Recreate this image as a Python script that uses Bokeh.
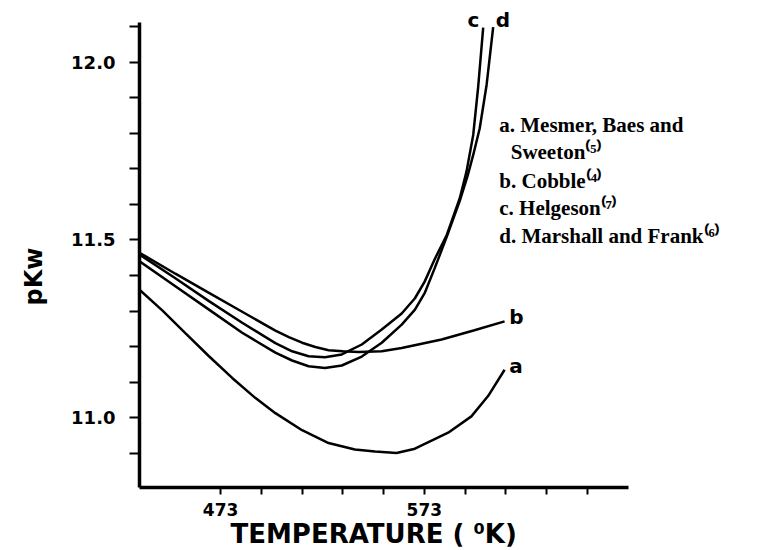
from bokeh.plotting import figure
from bokeh.models import FixedTicker, Label, Range1d, PrintfTickFormatter, Title
from bokeh.embed import file_html
from bokeh.resources import INLINE

# ---- data (temperature in K, pKw) ----
temp_a = [433.2, 444.5, 455.7, 467.3, 478.7, 490.0, 499.9, 513.0, 526.0, 538.9, 548.8, 559.4, 568.4, 584.7, 596.1, 604.3, 612.4]
pkw_a = [11.360, 11.301, 11.238, 11.173, 11.112, 11.056, 11.013, 10.965, 10.929, 10.911, 10.905, 10.901, 10.913, 10.958, 11.004, 11.061, 11.135]

temp_b = [433.2, 450.8, 467.3, 483.6, 499.9, 506.5, 513.0, 519.5, 526.0, 533.0, 540.7, 552.1, 561.9, 581.5, 597.6, 612.4]
pkw_b = [11.464, 11.405, 11.351, 11.298, 11.245, 11.227, 11.211, 11.199, 11.190, 11.187, 11.185, 11.187, 11.196, 11.220, 11.246, 11.271]

temp_c = [433.2, 450.8, 467.3, 483.6, 499.9, 508.1, 516.2, 524.2, 532.5, 542.3, 552.1, 561.9, 568.4, 573.1, 578.2, 583.9, 590.4, 593.7, 597.0, 599.4, 601.9]
pkw_c = [11.459, 11.392, 11.328, 11.267, 11.210, 11.187, 11.173, 11.170, 11.178, 11.206, 11.248, 11.293, 11.336, 11.382, 11.447, 11.512, 11.617, 11.692, 11.795, 11.928, 12.097]

temp_d = [433.2, 450.8, 467.3, 483.6, 499.9, 508.1, 516.2, 524.2, 532.5, 542.3, 552.1, 561.9, 568.4, 573.3, 578.2, 583.9, 590.4, 594.2, 597.1, 600.2, 603.6, 606.8]
pkw_d = [11.440, 11.370, 11.304, 11.239, 11.183, 11.161, 11.145, 11.140, 11.147, 11.172, 11.211, 11.262, 11.304, 11.352, 11.422, 11.507, 11.610, 11.679, 11.741, 11.814, 11.937, 12.098]

x_major = [473, 573]
x_minor = [493, 513, 533, 553, 593, 613, 633, 653]
y_major = [11.0, 11.5, 12.0]
y_minor = [10.9, 11.1, 11.2, 11.3, 11.4, 11.6, 11.7, 11.8, 11.9, 12.1]
x_axis_span = (433.2, 673.4)
y_axis_span = (10.804, 12.112)

x_title = "TEMPERATURE ( \u2070K)"
y_title = "pKw"
curve_letters = ["a", "b", "c", "d"]
legend_lines = ["a. Mesmer, Baes and", "Sweeton\u207d\u2075\u207e", "b. Cobble\u207d\u2074\u207e",
                "c. Helgeson\u207d\u2077\u207e", "d. Marshall and Frank\u207d\u2076\u207e"]

p = figure(width=761, height=550, output_backend="svg", toolbar_location=None,
           x_range=Range1d(433.2, 738.5), y_range=Range1d(10.804, 12.173),
           min_border_left=137, min_border_right=0, min_border_top=0, min_border_bottom=62)
p.outline_line_color = None
p.xgrid.visible = False
p.ygrid.visible = False
p.background_fill_color = "white"
p.border_fill_color = "white"

for ax in (p.xaxis[0], p.yaxis[0]):
    ax.axis_line_width = 3.5
    ax.axis_line_color = "black"
    ax.major_tick_in = 0
    ax.minor_tick_in = 0
    ax.major_tick_line_width = 2
    ax.minor_tick_line_width = 2
    ax.major_label_text_font = "DejaVu Sans"
    ax.major_label_text_font_style = "bold"
    ax.major_label_text_color = "black"

p.xaxis.bounds = x_axis_span
p.xaxis.ticker = FixedTicker(ticks=x_major, minor_ticks=x_minor)
p.xaxis.major_tick_out = 7
p.xaxis.minor_tick_out = 7
p.xaxis.major_label_standoff = 8
p.xaxis.major_label_text_font_size = "17px"

p.yaxis.bounds = y_axis_span
p.yaxis.ticker = FixedTicker(ticks=y_major, minor_ticks=y_minor)
p.yaxis.formatter = PrintfTickFormatter(format="%.1f")
p.yaxis.major_tick_out = 10
p.yaxis.minor_tick_out = 10
p.yaxis.major_label_standoff = 14
p.yaxis.major_label_text_font_size = "18px"

xt = Title(text=x_title, align="left", offset=91, vertical_align="top", standoff=0,
           text_font="DejaVu Sans", text_font_style="bold", text_font_size="26px", text_color="black")
p.add_layout(xt, "below")
yt = Title(text=y_title, align="left", offset=182, vertical_align="top", standoff=38,
           text_font="DejaVu Sans", text_font_style="bold", text_font_size="24px", text_color="black")
p.add_layout(yt, "left")

for t, v in ((temp_a, pkw_a), (temp_b, pkw_b), (temp_c, pkw_c), (temp_d, pkw_d)):
    p.line(t, v, line_color="black", line_width=2.5)

def lab(x, y, text, font="DejaVu Sans", size="20px", align="left"):
    p.add_layout(Label(x=x, y=y, text=text, text_font=font, text_font_style="bold",
                       text_font_size=size, text_align=align, text_baseline="middle",
                       text_color="black"))

# curve end labels a, b, c, d
lab(614.7, 11.145, curve_letters[0])
lab(614.7, 11.283, curve_letters[1])
lab(597.1, 12.118, curve_letters[2], align="center")
lab(611.6, 12.118, curve_letters[3], align="center")

leg_x = [609.8, 615.4, 609.8, 609.8, 609.8]
leg_y = [11.822, 11.747, 11.665, 11.590, 11.511]
for x, y, t in zip(leg_x, leg_y, legend_lines):
    lab(x, y, t, font="Liberation Serif", size="21px")

open("out.html", "w").write(file_html(p, INLINE))
